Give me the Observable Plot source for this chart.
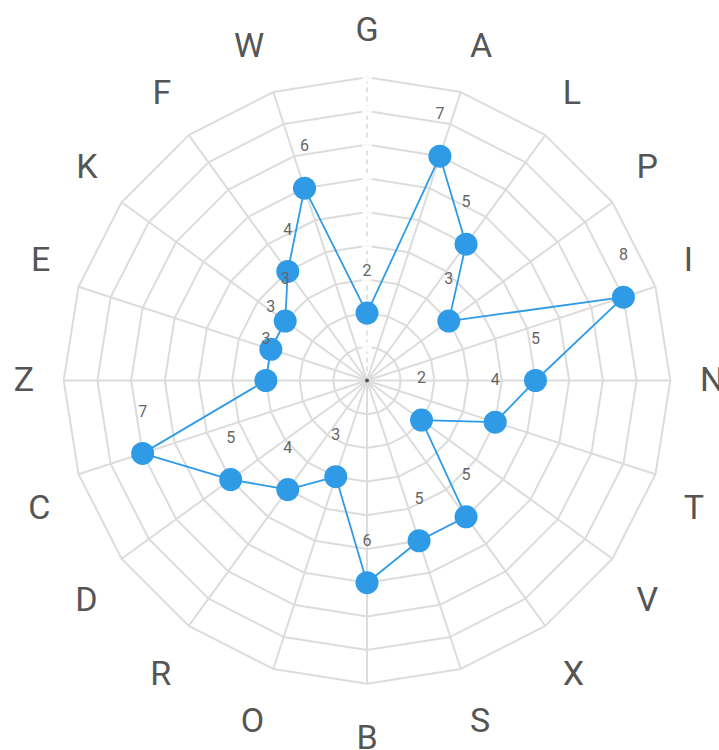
<!DOCTYPE html>
<html>
<head>
<meta charset="utf-8">
<script src="https://cdn.jsdelivr.net/npm/d3@7"></script>
<script src="https://cdn.jsdelivr.net/npm/@observablehq/plot@0.6"></script>
<style>
  html, body { margin: 0; padding: 0; background: #fff; }
  #chart svg { display: block; }
</style>
</head>
<body>
<div id="chart"></div>
<script>
// Data
const categories = ["G","A","L","P","I","N","T","V","X","S","B","O","R","D","C","Z","E","K","F","W"];
const values =     [ 2,  7,  5,  3,  8,  5,  4,  2,  5,  5,  6,  3,  4,  5,  7,  3,  3,  3,  4,  6];
const ringTicks = [1,2,3,4,5,6,7,8,9];
const maxValue = 9;

// Layout
const W = 719, H = 750;
const cx = 366.5, cy = 380;
const k = 33.7; // px per unit
const labelRadius = 333 / k;

const n = categories.length;
const ang = i => (i / n) * 2 * Math.PI; // clockwise from north
const px = (r, i) => r * Math.sin(ang(i));
const py = (r, i) => r * Math.cos(ang(i));

const ringPts = [];
for (const r of ringTicks) {
  for (let i = 0; i <= n; i++) ringPts.push({ring: r, x: px(r, i % n), y: py(r, i % n)});
}
const spokes = categories.map((c, i) => ({x1: 0, y1: 0, x2: px(maxValue, i), y2: py(maxValue, i), c}));
const pts = categories.map((c, i) => ({c, v: values[i], x: px(values[i], i), y: py(values[i], i)}));
const catLabels = categories.map((c, i) => {
  const s = Math.sin(ang(i)), co = Math.cos(ang(i));
  return {
    c, x: px(labelRadius, i), y: py(labelRadius, i),
    anchor: Math.abs(s) < 1e-4 ? "middle" : s > 0 ? "start" : "end",
    line: Math.abs(co) < 1e-4 ? "middle" : co > 0 ? "bottom" : "top"
  };
});
const axisTicks = ringTicks.map(r => ({r, x: 0, y: r}));

const blue = "#2f9be6";
const lineShift = {top: 11, middle: 0, bottom: -7};

const labelMarks = [];
for (const a of ["start", "middle", "end"]) {
  for (const l of ["top", "middle", "bottom"]) {
    const sub = catLabels.filter(d => d.anchor === a && d.line === l);
    if (sub.length) labelMarks.push(Plot.text(sub, {x: "x", y: "y", text: "c", textAnchor: a, lineAnchor: l, dy: lineShift[l], fill: "#555", fontSize: 34}));
  }
}

const chart = Plot.plot({
  width: W,
  height: H,
  margin: 0,
  x: {domain: [-cx / k, (W - cx) / k], range: [0, W], axis: null},
  y: {domain: [-(H - cy) / k, cy / k], range: [H, 0], axis: null},
  style: {background: "#fff", fontFamily: "Roboto, 'Liberation Sans', sans-serif"},
  marks: [
    Plot.line(ringPts, {x: "x", y: "y", z: "ring", stroke: "#dcdcdc", strokeWidth: 2}),
    Plot.link(spokes.filter(d => d.c !== "G"), {x1: "x1", y1: "y1", x2: "x2", y2: "y2", stroke: "#dcdcdc", strokeWidth: 2}),
    Plot.link(spokes.filter(d => d.c === "G"), {x1: "x1", y1: "y1", x2: "x2", y2: "y2", stroke: "#e2e2e2", strokeWidth: 2, strokeDasharray: "5,4"}),
    Plot.dot(axisTicks, {x: "x", y: "y", r: 5, fill: "#fff", fillOpacity: 0.85}),
    Plot.dot([{x: 0, y: 0}], {x: "x", y: "y", r: 2, fill: "#555"}),
    Plot.line([...pts, pts[0]], {x: "x", y: "y", stroke: blue, strokeWidth: 1.8}),
    Plot.dot(pts, {x: "x", y: "y", r: 11.5, fill: blue}),
    Plot.text(pts, {x: "x", y: "y", text: d => String(d.v), dy: -42, fill: "#666", fontSize: 16}),
    ...labelMarks
  ]
});
document.getElementById("chart").appendChild(chart);
</script>
</body>
</html>
